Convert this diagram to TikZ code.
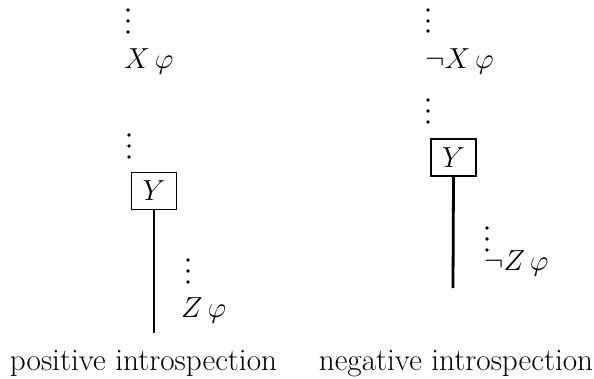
\RequirePackage{fix-cm}
\documentclass[tikz,border=0pt]{standalone}
\begin{document}
\begin{tikzpicture}[x=1pt,y=-1pt,
  lbl/.style={inner sep=0pt,anchor=base west,font=\fontsize{29}{34}\selectfont},
  captext/.style={inner sep=0pt,anchor=base,font=\fontsize{31.2}{36}\selectfont},
  vdot/.style={circle,fill=black,inner sep=0pt,minimum size=3.6pt},
  ybox/.style={draw,line width=1.7pt,inner sep=0pt,minimum width=45pt,minimum height=37pt,font=\fontsize{29}{34}\selectfont},
  branch/.style={line width=2.8pt}]
\useasboundingbox (0,0) rectangle (594,378);
% left column
\node[vdot] (la1) at (128,10) {};
\node[vdot] (la2) at (128,21) {};
\node[vdot] (la3) at (128,32) {};
\node[lbl] (lx) at (124,68) {$X\,\varphi$};
\node[vdot] (lb1) at (129,135) {};
\node[vdot] (lb2) at (129,146) {};
\node[vdot] (lb3) at (129,157) {};
\node[ybox] (ly) at (154,191) {$Y$};
\coordinate (lend) at (154,333);
\draw[branch] (ly.south) -- (lend);
\node[vdot] (lc1) at (188,260) {};
\node[vdot] (lc2) at (188,271) {};
\node[vdot] (lc3) at (188,282) {};
\node[lbl] (lz) at (181,317) {$Z\,\varphi$};
\node[captext] (lcap) at (143.5,370) {positive introspection};
% right column
\node[vdot] (ra1) at (428,10) {};
\node[vdot] (ra2) at (428,21) {};
\node[vdot] (ra3) at (428,31) {};
\node[lbl] (rx) at (425,68) {$\neg X\,\varphi$};
\node[vdot] (rb1) at (428,100) {};
\node[vdot] (rb2) at (428,111) {};
\node[vdot] (rb3) at (428,122) {};
\node[ybox] (ry) at (453.5,157.5) {$Y$};
\coordinate (rend) at (453,288);
\draw[branch] (ry.south) -- (rend);
\node[vdot] (rc1) at (487,228) {};
\node[vdot] (rc2) at (487,239) {};
\node[vdot] (rc3) at (487,250) {};
\node[lbl] (rz) at (484,270) {$\neg Z\,\varphi$};
\node[captext] (rcap) at (456,370) {negative introspection};
\end{tikzpicture}
\end{document}
